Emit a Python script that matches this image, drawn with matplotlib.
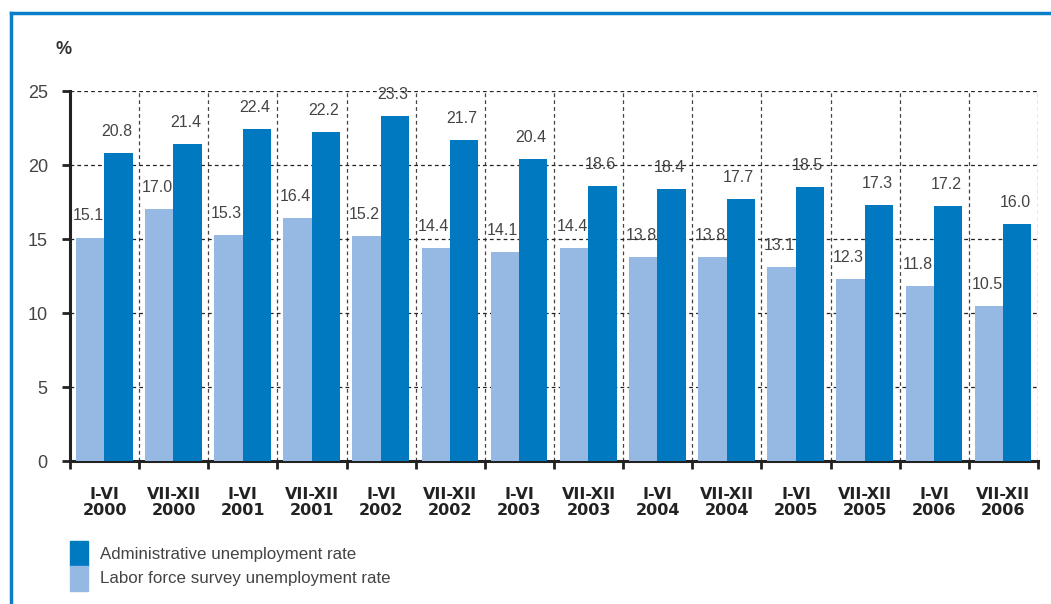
import numpy as np
import matplotlib.pyplot as plt
from matplotlib.patches import Rectangle
from matplotlib.lines import Line2D

plt.rcParams['font.family'] = ['Liberation Sans', 'DejaVu Sans']

# Unemployment rates by half-year
periods = ['I-VI\n2000', 'VII-XII\n2000', 'I-VI\n2001', 'VII-XII\n2001',
           'I-VI\n2002', 'VII-XII\n2002', 'I-VI\n2003', 'VII-XII\n2003',
           'I-VI\n2004', 'VII-XII\n2004', 'I-VI\n2005', 'VII-XII\n2005',
           'I-VI\n2006', 'VII-XII\n2006']
lfs_rate = [15.1, 17.0, 15.3, 16.4, 15.2, 14.4, 14.1, 14.4, 13.8, 13.8, 13.1, 12.3, 11.8, 10.5]
admin_rate = [20.8, 21.4, 22.4, 22.2, 23.3, 21.7, 20.4, 18.6, 18.4, 17.7, 18.5, 17.3, 17.2, 16.0]

dark = '#0079C1'
light = '#95B9E2'
txt = '#444444'

fig = plt.figure(figsize=(10.51, 6.04), dpi=100)
ax = fig.add_axes([70 / 1051, 1 - 461 / 604, 968 / 1051, 370 / 604])

x = np.arange(len(periods))
w = 0.41
ax.bar(x + 0.085, lfs_rate, w, align='edge', color=light, zorder=3)
ax.bar(x + 0.085 + w, admin_rate, w, align='edge', color=dark, zorder=3)

for i in range(len(periods)):
    ax.text(x[i] + 0.085 + w / 2 - 0.03, lfs_rate[i] + 0.95, f'{lfs_rate[i]:.1f}',
            ha='center', va='bottom', fontsize=11.5, color=txt, zorder=4)
    ax.text(x[i] + 0.085 + 1.5 * w - 0.03, admin_rate[i] + 0.95, f'{admin_rate[i]:.1f}',
            ha='center', va='bottom', fontsize=11.5, color=txt, zorder=4)

ax.set_xlim(0, len(periods))
ax.set_ylim(0, 25)
ax.set_yticks([0, 5, 10, 15, 20, 25])
ax.set_xticks(np.arange(len(periods) + 1))
ax.set_xticklabels([])
ax.set_xticks(x + 0.5, minor=True)
ax.set_xticklabels(periods, minor=True, fontweight='bold', fontsize=11.5,
                   color='#222222', linespacing=1.05, family='DejaVu Sans')
ax.tick_params(axis='x', which='minor', length=0, pad=19)
ax.tick_params(axis='x', which='major', length=6, width=2, color='#222222')
ax.tick_params(axis='y', length=6, width=2, color='#222222', labelsize=13, labelcolor=txt, pad=10)

ax.grid(True, axis='y', linestyle=(0, (3, 2.5)), color='#222222', linewidth=0.9, zorder=0)
ax.grid(True, axis='x', which='major', linestyle=(0, (3, 2.5)), color='#444444', linewidth=0.9, zorder=0)

for s in ['top', 'right']:
    ax.spines[s].set_visible(False)
for s in ['left', 'bottom']:
    ax.spines[s].set_linewidth(2.2)
    ax.spines[s].set_color('#222222')

fig.text(55 / 1051, 1 - 50 / 604, '%', fontsize=13, fontweight='bold', color='#333333', va='center')

# frame lines (top and left)
fig.add_artist(Line2D([11 / 1051, 1], [1 - 13 / 604, 1 - 13 / 604], color='#0a7fc7', lw=2.5))
fig.add_artist(Line2D([11 / 1051, 11 / 1051], [0, 1 - 13 / 604], color='#0a7fc7', lw=2.5))

# legend
fig.add_artist(Rectangle((70 / 1051, 1 - 566 / 604), 18 / 1051, 25 / 604, color=dark, transform=fig.transFigure))
fig.add_artist(Rectangle((70 / 1051, 1 - 591 / 604), 18 / 1051, 25 / 604, color=light, transform=fig.transFigure))
fig.text(100 / 1051, 1 - 554 / 604, 'Administrative unemployment rate', fontsize=12.2, color=txt, va='center')
fig.text(100 / 1051, 1 - 579 / 604, 'Labor force survey unemployment rate', fontsize=12.2, color=txt, va='center')

fig.savefig('out.png', dpi=100)
